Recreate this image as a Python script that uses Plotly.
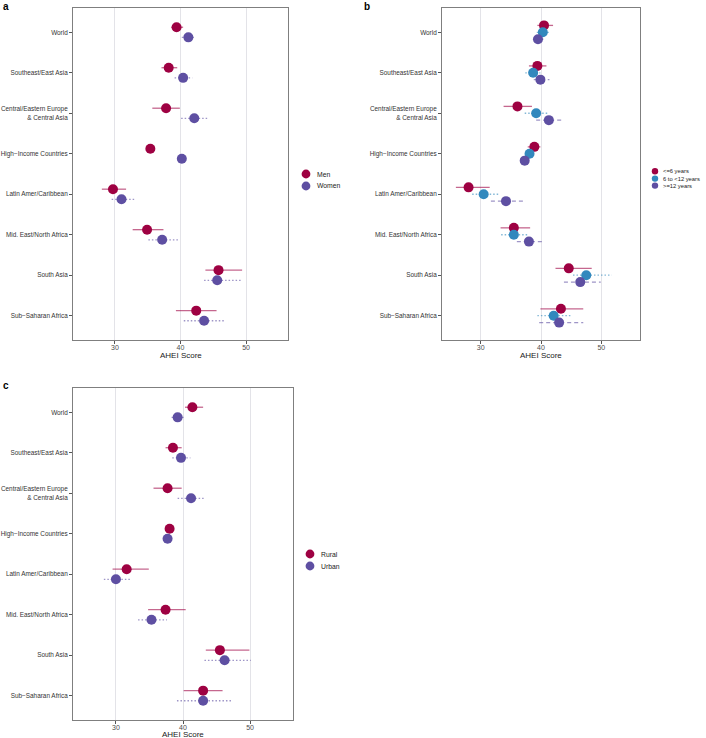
import plotly.graph_objects as go

W, H = 706, 738

regions = ["World", "Southeast/East Asia", "Central/Eastern Europe<br>& Central Asia",
           "High−Income Countries", "Latin Amer/Caribbean", "Mid. East/North Africa",
           "South Asia", "Sub−Saharan Africa"]
x_ticks = [30, 40, 50]

# Panel a: sex
men_est = [39.4, 38.2, 37.8, 35.4, 29.7, 34.9, 45.8, 42.4]
men_lo = [38.6, 37.1, 35.7, 35.0, 28.0, 32.7, 43.8, 39.3]
men_hi = [40.4, 39.5, 39.9, 35.8, 31.7, 37.4, 49.4, 45.5]
women_est = [41.2, 40.4, 42.1, 40.2, 31.0, 37.2, 45.6, 43.6]
women_lo = [40.2, 39.1, 40.1, 39.8, 29.5, 35.1, 43.6, 40.5]
women_hi = [42.2, 41.8, 44.2, 40.6, 33.0, 39.7, 49.2, 46.6]

# Panel b: education
le6_est = [40.5, 39.4, 36.1, 38.9, 28.0, 35.5, 44.6, 43.3]
le6_lo = [39.4, 38.0, 33.8, 37.8, 25.9, 33.3, 42.4, 39.9]
le6_hi = [42.0, 40.9, 38.5, 39.9, 31.5, 38.2, 48.4, 47.0]
mid_est = [40.3, 38.7, 39.2, 38.1, 30.5, 35.5, 47.5, 42.1]
mid_lo = [39.3, 37.4, 37.3, 37.4, 28.6, 33.4, 45.3, 39.4]
mid_hi = [41.5, 39.9, 41.2, 38.8, 33.1, 37.8, 51.7, 44.9]
ge12_est = [39.5, 39.9, 41.3, 37.3, 34.2, 38.0, 46.5, 43.0]
ge12_lo = [38.7, 38.8, 39.2, 36.6, 31.7, 36.0, 43.8, 39.7]
ge12_hi = [40.4, 41.4, 43.5, 38.0, 37.5, 40.4, 49.9, 47.0]

# Panel c: residence
rural_est = [41.4, 38.5, 37.7, 38.0, 31.6, 37.4, 45.5, 43.0]
rural_lo = [40.3, 37.4, 35.6, 37.5, 29.5, 34.8, 43.4, 40.1]
rural_hi = [43.0, 39.8, 39.8, 38.5, 34.9, 40.4, 49.9, 45.9]
urban_est = [39.2, 39.7, 41.2, 37.7, 30.0, 35.3, 46.2, 43.0]
urban_lo = [38.3, 38.4, 39.2, 37.3, 28.2, 33.3, 43.2, 39.1]
urban_hi = [40.1, 41.1, 43.3, 38.1, 32.2, 37.6, 50.1, 47.3]

sex_names = ["Men", "Women"]
edu_names = ["<=6 years", "6 to <12 years", ">=12 years"]
res_names = ["Rural", "Urban"]

RED, BLUE, PURPLE = "#9E0142", "#3288BD", "#5E4FA2"
RED_L, BLUE_L, PURPLE_L = "rgba(158,1,66,0.6)", "rgba(50,136,189,0.6)", "rgba(94,79,162,0.6)"
FONT = "Liberation Sans, Arial, sans-serif"
DOT, DASH = "1.5px,2px", "4px,3px"

fig = go.Figure()


def add_group(name, est, lo, hi, offset, color, lcolor, dash, ax):
    xa, ya = ("x", "y") if ax == 1 else (f"x{ax}", f"y{ax}")
    pos = [i + offset for i in range(len(est))]
    lx, ly = [], []
    for p, l, h in zip(pos, lo, hi):
        lx += [l, h, None]
        ly += [p, p, None]
    fig.add_trace(go.Scatter(x=lx, y=ly, mode="lines", xaxis=xa, yaxis=ya,
                             line=dict(color=lcolor, width=1.3, dash=dash),
                             showlegend=False, hoverinfo="skip"))
    fig.add_trace(go.Scatter(x=est, y=pos, mode="markers", name=name, xaxis=xa, yaxis=ya,
                             marker=dict(color=color, size=10, line=dict(width=0)),
                             showlegend=False))


add_group(sex_names[0], men_est, men_lo, men_hi, -0.125, RED, RED_L, "solid", 1)
add_group(sex_names[1], women_est, women_lo, women_hi, 0.125, PURPLE, PURPLE_L, DOT, 1)
add_group(edu_names[0], le6_est, le6_lo, le6_hi, -0.17, RED, RED_L, "solid", 2)
add_group(edu_names[1], mid_est, mid_lo, mid_hi, 0.0, BLUE, BLUE_L, DOT, 2)
add_group(edu_names[2], ge12_est, ge12_lo, ge12_hi, 0.17, PURPLE, PURPLE_L, DASH, 2)
add_group(res_names[0], rural_est, rural_lo, rural_hi, -0.125, RED, RED_L, "solid", 3)
add_group(res_names[1], urban_est, urban_lo, urban_hi, 0.125, PURPLE, PURPLE_L, DOT, 3)


def px_x(a, b):
    return [a / W, b / W]


def px_y(top, bottom):
    return [1 - bottom / H, 1 - top / H]


panels = {
    1: (px_x(73, 288), px_y(8, 340), 356),
    2: (px_x(442, 640), px_y(8, 340), 356),
    3: (px_x(73, 293), px_y(388, 720), 734),
}

for k, (xd, yd, ty) in panels.items():
    xk = "xaxis" if k == 1 else f"xaxis{k}"
    yk = "yaxis" if k == 1 else f"yaxis{k}"
    anchor_x = "y" if k == 1 else f"y{k}"
    anchor_y = "x" if k == 1 else f"x{k}"
    fig.layout[xk] = dict(domain=xd, anchor=anchor_x, range=[23.6, 56.4], automargin=False,
                          tickvals=x_ticks, ticks="outside", ticklen=3, tickcolor="#555",
                          ticklabelstandoff=-2,
                          showline=True, linecolor="#7f7f7f", linewidth=1, mirror=True,
                          showgrid=True, gridcolor="#e3e3e8", gridwidth=1, zeroline=False,
                          tickfont=dict(size=7, color="#4d4d4d", family=FONT))
    fig.layout[yk] = dict(domain=yd, anchor=anchor_y, range=[7.6, -0.6], automargin=False,
                          tickvals=list(range(len(regions))), ticktext=regions,
                          ticks="outside", ticklen=3, tickcolor="#555",
                          showline=True, linecolor="#7f7f7f", linewidth=1, mirror=True,
                          showgrid=False, zeroline=False,
                          tickfont=dict(size=6.4, color="#333333", family=FONT))
    fig.add_annotation(text="AHEI Score", x=(xd[0] + xd[1]) / 2, y=1 - ty / H,
                       xref="paper", yref="paper", xanchor="center", yanchor="middle",
                       showarrow=False, font=dict(size=8, color="#222", family=FONT))


def draw_legend(names, colors, cx, cys, r, tx, fsize):
    for n, c, cy in zip(names, colors, cys):
        fig.add_shape(type="circle", xref="paper", yref="paper",
                      x0=(cx - r) / W, x1=(cx + r) / W, y0=1 - (cy + r) / H, y1=1 - (cy - r) / H,
                      fillcolor=c, line=dict(width=0))
        fig.add_annotation(text=n, x=tx / W, y=1 - cy / H, xref="paper", yref="paper",
                           xanchor="left", yanchor="middle", showarrow=False,
                           font=dict(size=fsize, color="#222", family=FONT))


draw_legend(sex_names, [RED, PURPLE], 306, [174, 186], 4.4, 315, 6.8)
draw_legend(edu_names, [RED, BLUE, PURPLE], 655, [171.3, 178.6, 185.6], 3.2, 661, 5.8)
draw_legend(res_names, [RED, PURPLE], 310, [554, 566], 4.4, 319, 6.8)

for txt, x, y in [("a", 1, 7), ("b", 362, 7), ("c", 1, 386)]:
    fig.add_annotation(text=f"<b>{txt}</b>", x=x / W, y=1 - y / H, xref="paper", yref="paper",
                       xanchor="left", yanchor="middle", showarrow=False,
                       font=dict(size=10, color="black", family=FONT))

fig.update_layout(template="none", width=W, height=H, margin=dict(l=0, r=0, t=0, b=0, autoexpand=False),
                  paper_bgcolor="white", plot_bgcolor="white", showlegend=False,
                  font=dict(family=FONT))

fig.write_html("out.html", config={"displayModeBar": False},
               post_script="document.body.style.margin='0';document.body.style.overflow='hidden';")
